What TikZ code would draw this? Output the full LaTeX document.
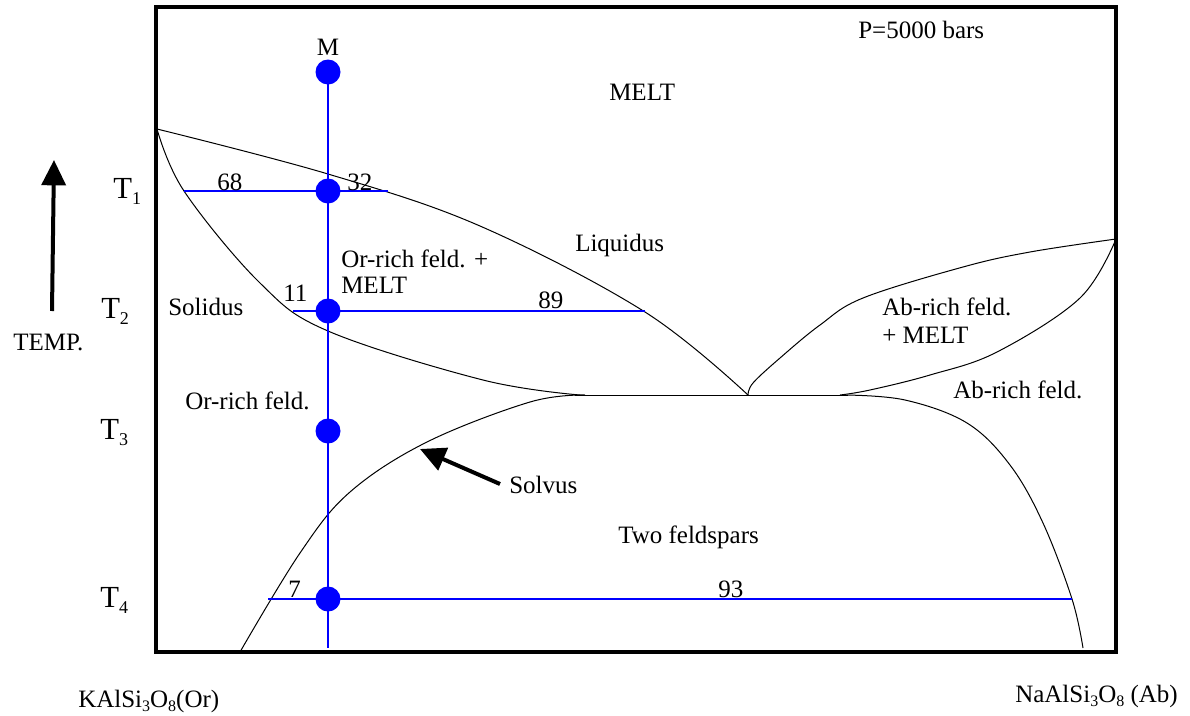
\documentclass[tikz,border=0pt]{standalone}
\usepackage{fontspec}
\setmainfont{Liberation Serif}
\usetikzlibrary{arrows.meta}
\newcommand{\lowsub}[1]{\raisebox{-3.5pt}{\fontsize{12}{12}\selectfont #1}}
\newcommand{\tsub}[1]{\raisebox{-5pt}{\fontsize{13.5}{14}\selectfont #1}}
\begin{document}
\begin{tikzpicture}[x=0.75pt,y=-0.75pt,
  lbl/.style={inner sep=0pt, anchor=base west, font=\fontsize{18.75}{22}\selectfont},
  tlbl/.style={inner sep=0pt, anchor=base west, font=\fontsize{23}{26}\selectfont},
  curve/.style={black, line width=0.75pt},
  tie/.style={blue, line width=0.8pt},
  dot/.style={circle, fill=blue, inner sep=0pt, minimum size=18.75pt},
  bigarrow/.style={line width=3pt, -{Triangle[length=19pt,width=18pt]}}]
\useasboundingbox (0,0) rectangle (1190,715);
\fill[white] (0,0) rectangle (1190,715);
% frame
\draw[line width=3pt] (156,7) rectangle (1116,652);
% left liquidus
\draw[curve] plot[smooth, tension=0.6] coordinates {(157,129) (328,174) (480,226) (645,312) (748,395)};
% left solidus
\draw[curve] plot[smooth, tension=0.6] coordinates {(157,129) (184,191) (260,283) (328,331) (483,380) (580,395)};
% horizontal
\draw[curve] (575,395) -- (848,395);
% left solvus
\draw[curve] plot[smooth, tension=0.6] coordinates {(240,652) (300,553) (350,492) (427,442) (530,402) (585,395)};
% right solvus
\draw[curve] plot[smooth, tension=0.6] coordinates {(845,395) (905,400) (967,423) (1010,465) (1043,523) (1072,599) (1083,648)};
% right liquidus
\draw[curve] plot[smooth, tension=0.6] coordinates {(748,395) (753,383) (780,358) (820,325) (863,298) (963,267) (1030,252) (1116,239)};
% right solidus
\draw[curve] plot[smooth, tension=0.6] coordinates {(1116,239) (1080,298) (997,352) (930,375) (870,390) (840,395)};
% composition path and tie lines
\coordinate (cm) at (328,72);
\coordinate (c1) at (328,191);
\coordinate (c2) at (328,311);
\coordinate (c3) at (328,431);
\coordinate (c4) at (328,599);
\coordinate (vbot) at (328,648);
\coordinate (t1l) at (184,191);
\coordinate (t1r) at (388,191);
\coordinate (t2l) at (293,311);
\coordinate (t2r) at (645,311);
\coordinate (t4l) at (268,599);
\coordinate (t4r) at (1072,599);
\draw[tie] (cm) -- (vbot);
\draw[tie] (t1l) -- (t1r);
\draw[tie] (t2l) -- (t2r);
\draw[tie] (t4l) -- (t4r);
\node[dot] (dm) at (cm) {};
\node[dot] (d1) at (c1) {};
\node[dot] (d2) at (c2) {};
\node[dot] (d3) at (c3) {};
\node[dot] (d4) at (c4) {};
% labels
\node[lbl, anchor=base] (mlbl) at (328,55) {M};
\node[lbl] (plbl) at (858,38) {P=5000 bars};
\node[lbl] (melt) at (609,100) {MELT};
\node[lbl] (l68) at (217,190) {68};
\node[lbl] (l32) at (347,190) {32};
\node[lbl] (liq) at (575,251) {Liquidus};
\node[lbl] (orma) at (341,267) {Or-rich feld. +};
\node[lbl] (ormb) at (341,293) {MELT};
\node[lbl] (sol) at (168,315) {Solidus};
\node[lbl] (l11) at (283,301) {11};
\node[lbl] (l89) at (538,308) {89};
\node[lbl] (abma) at (882,315) {Ab-rich feld.};
\node[lbl] (abmb) at (882,343) {+ MELT};
\node[lbl] (ab) at (953,398) {Ab-rich feld.};
\node[lbl] (or) at (185,409) {Or-rich feld.};
\node[lbl] (solv) at (509,493) {Solvus};
\node[lbl] (two) at (618,543) {Two feldspars};
\node[lbl] (l7) at (288,597) {7};
\node[lbl] (l93) at (718,597) {93};
\node[lbl] (temp) at (13,350) {TEMP.};
\node[tlbl] (ta) at (113,198) {T\tsub{1}};
\node[tlbl] (tb) at (101,318) {T\tsub{2}};
\node[tlbl] (tc) at (100,439) {T\tsub{3}};
\node[tlbl] (td) at (100,607) {T\tsub{4}};
\node[lbl] (kal) at (78,707) {KAlSi\lowsub{3}O\lowsub{8}(Or)};
\node[lbl] (naal) at (1015,702) {NaAlSi\lowsub{3}O\lowsub{8} (Ab)};
% arrows
\coordinate (tempbot) at (52,311);
\coordinate (temptop) at (54,160);
\draw[bigarrow] (tempbot) -- (temptop);
\coordinate (solvtail) at (500,484);
\coordinate (solvtip) at (420,449);
\draw[bigarrow] (solvtail) -- (solvtip);
\end{tikzpicture}
\end{document}
